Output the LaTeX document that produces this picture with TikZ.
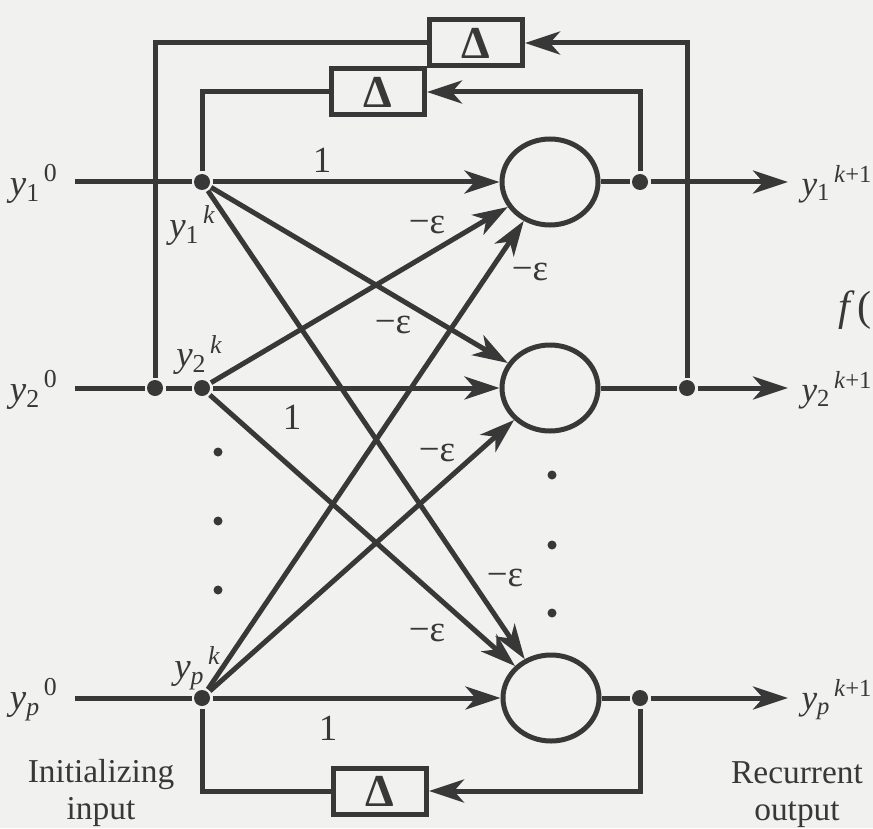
\documentclass[tikz,border=0pt]{standalone}
\usepackage{amsmath}
\usepackage{fontspec}
\setmainfont{Liberation Serif}
\usepackage{tikz}
\usetikzlibrary{arrows.meta, shapes.geometric}
\definecolor{hfink}{HTML}{383838}
\definecolor{hfpaper}{HTML}{F1F1EF}
\newcommand{\yvar}[2]{\textit{y}\textsubscript{#1}\kern0.8pt\textsuperscript{#2}}

\begin{document}
\begin{tikzpicture}[font=\fontsize{9.5}{10.5}\selectfont, line width=0.05cm, color=hfink,
      neuron/.style={draw, ellipse, minimum width=0.96cm, minimum height=0.86cm, inner sep=0pt},
      delay/.style={draw, rectangle, minimum width=0.93cm, minimum height=0.46cm, inner sep=0pt,
                    font=\fontsize{13}{13}\selectfont\bfseries},
      jdot/.style={circle, fill, inner sep=0pt, minimum size=0.16cm},
      vdot/.style={circle, fill, inner sep=0pt, minimum size=0.09cm},
      arr/.style={-{Stealth[length=0.35cm, width=0.23cm, inset=0.1cm]}},
      wt/.style={inner sep=1pt, font=\fontsize{10.5}{11}\selectfont},
      lab/.style={inner sep=0pt, font=\fontsize{10.5}{11}\selectfont}]
      \useasboundingbox (0,0) rectangle (8.73,8.28);
      \fill[hfpaper] (0,0) rectangle (8.73,8.28);

      % neurons
      \node[neuron] (n1) at (5.50,6.46) {};
      \node[neuron] (n2) at (5.50,4.40) {};
      \node[neuron] (np) at (5.51,1.30) {};

      % junctions
      \node[jdot] (d1) at (2.02,6.46) {};
      \node[jdot] (d2) at (2.02,4.40) {};
      \node[jdot] (dp) at (2.02,1.30) {};
      \node[jdot] (dl) at (1.55,4.40) {};
      \node[jdot] (o1) at (6.40,6.46) {};
      \node[jdot] (o2) at (6.87,4.40) {};
      \node[jdot] (op) at (6.40,1.30) {};

      % delay boxes
      \node[delay] (b1) at (4.76,7.85) {Δ};
      \node[delay] (b2) at (3.78,7.36) {Δ};
      \node[delay] (b3) at (3.80,0.37) {Δ};

      % inputs and outputs
      \coordinate (s1) at (0.75,6.46);
      \coordinate (s2) at (0.75,4.40);
      \coordinate (sp) at (0.75,1.30);
      \coordinate (t1) at (7.88,6.46);
      \coordinate (t2) at (7.88,4.40);
      \coordinate (tp) at (7.88,1.30);
      \node[lab, anchor=east] (in1) at (0.61,6.44) {\yvar{1}{0}};
      \node[lab, anchor=east] (in2) at (0.61,4.38) {\yvar{2}{0}};
      \node[lab, anchor=east] (inp) at (0.61,1.28) {\yvar{\textit{p}}{0}};
      \node[lab, anchor=west, font=\fontsize{10}{11}\selectfont] (out1) at (7.99,6.44) {\yvar{1}{\textit{k}+1}};
      \node[lab, anchor=west, font=\fontsize{10}{11}\selectfont] (out2) at (7.99,4.38) {\yvar{2}{\textit{k}+1}};
      \node[lab, anchor=west, font=\fontsize{10}{11}\selectfont] (outp) at (7.99,1.28) {\yvar{\textit{p}}{\textit{k}+1}};
      \node[lab] (yk1) at (1.93,6.02) {\yvar{1}{\textit{k}}};
      \node[lab] (yk2) at (2.00,4.73) {\yvar{2}{\textit{k}}};
      \node[lab] (ykp) at (1.98,1.60) {\yvar{\textit{p}}{\textit{k}}};

      \draw (s1) -- (d1);
      \draw[arr] (d1) -- (n1);
      \draw (s2) -- (dl) -- (d2);
      \draw[arr] (d2) -- (n2);
      \draw (sp) -- (dp);
      \draw[arr] (dp) -- (np);

      % lateral inhibition
      \foreach \a/\b in {d1/n2, d1/np, d2/n1, d2/np, dp/n1, dp/n2}
        \draw[arr] (\a) -- (\b);

      \draw (n1) -- (o1);
      \draw[arr] (o1) -- (t1);
      \draw (n2) -- (o2);
      \draw[arr] (o2) -- (t2);
      \draw (np) -- (op);
      \draw[arr] (op) -- (tp);

      % feedback through delays
      \draw[arr] (o2) |- (b1);
      \draw (b1) -| (dl);
      \draw[arr] (o1) |- (b2);
      \draw (b2) -| (d1);
      \draw[arr] (op) |- (b3);
      \draw (b3) -| (dp);

      % weights
      \node[wt] (w1) at (3.22,6.68) {1};
      \node[wt] (w2) at (2.92,4.11) {1};
      \node[wt] (wp) at (3.28,1.00) {1};
      \node[wt] (e1) at (4.27,6.03) {−ε};
      \node[wt] (e2) at (5.30,5.56) {−ε};
      \node[wt] (e3) at (3.93,5.03) {−ε};
      \node[wt] (e4) at (4.37,3.75) {−ε};
      \node[wt] (e5) at (5.05,2.50) {−ε};
      \node[wt] (e6) at (4.27,1.95) {−ε};

      % ellipsis dots
      \foreach \y in {3.76,3.07,2.38} \node[vdot] at (2.18,\y) {};
      \foreach \y in {3.53,2.83,2.15} \node[vdot] at (5.52,\y) {};

      \node[align=center] (init) at (1.01,0.35) {Initializing\\input};
      \node[align=center] (rec) at (7.97,0.33) {Recurrent\\output};
      \node[anchor=west, inner sep=0pt, font=\fontsize{12}{12}\selectfont] (fx) at (8.36,5.18) {\textit{f}\kern0.6pt(};
    \end{tikzpicture}
\end{document}
